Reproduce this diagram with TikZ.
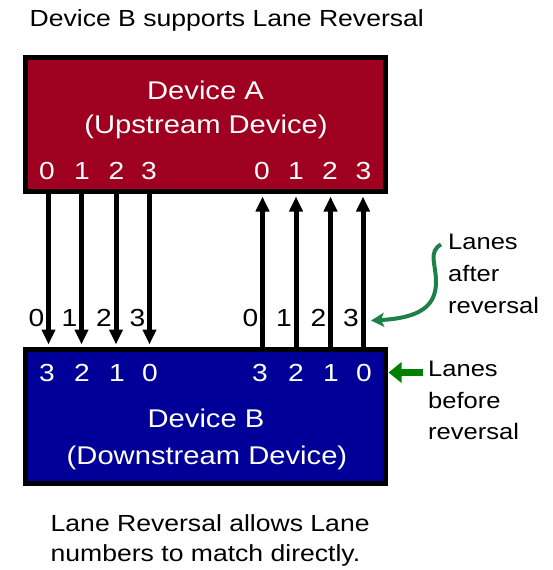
\documentclass[tikz,border=0pt]{standalone}
\usepackage{fontspec}
\setmainfont{Liberation Sans}[FakeStretch=1.14]
\usetikzlibrary{arrows.meta,calc}
\definecolor{devA}{RGB}{160,0,32}
\definecolor{devB}{RGB}{0,0,153}
\definecolor{grnA}{RGB}{28,128,72}
\definecolor{grnB}{RGB}{0,128,0}
\newcommand\myfs[1]{\fontsize{#1}{#1}\selectfont}
\begin{document}
\begin{tikzpicture}[x=1pt,y=-1pt,
  devbox/.style={draw=black, line width=5pt, minimum width=360pt, minimum height=134pt, inner sep=0pt},
  devname/.style={inner sep=0pt, anchor=base, text=white, font=\myfs{25.6}},
  lanedigit/.style={inner sep=0pt, anchor=base, font=\myfs{24.7}},
  abovelbl/.style={inner sep=0pt, anchor=base east, font=\myfs{24.7}},
  sidelbl/.style={inner sep=0pt, anchor=base west, font=\myfs{22.4}},
  plaintext/.style={inner sep=0pt, anchor=base west, font=\myfs{23.3}},
  lanearrow/.style={line width=5pt, -{Triangle[width=13pt,length=15pt]}, shorten >=2.5pt},
  curvearrow/.style={grnA, line width=4pt, -{Stealth[length=13pt,width=14pt,inset=3pt]}},
  straightarrow/.style={grnB, line width=6.5pt, -{Triangle[length=13pt,width=20pt]}}
]
\useasboundingbox (0,0) rectangle (552,570);

% title
\node[plaintext] (title) at (29.5,26.7) {Device B supports Lane Reversal};

% device boxes
\node[devbox, fill=devA] (boxA) at (205.5,124.5) {};
\node[devbox, fill=devB] (boxB) at (205.5,416.5) {};

\node[devname] (nameA1) at (205.5,99) {Device A};
\node[devname] (nameA2) at (206,133.3) {(Upstream Device)};
\node[devname] (nameB1) at (206,427) {Device B};
\node[devname] (nameB2) at (207,464) {(Downstream Device)};

% lane shaft positions
\foreach \x [count=\i] in {48.5,81.5,116,149.5,262.5,296,330.5,363}
  \coordinate (s\i) at (\x,0);

% digits inside Device A
\foreach \x/\d [count=\i] in {47/0,82/1,116.5/2,149/3,262/0,296/1,330/2,363.5/3}
  \node[lanedigit, text=white] (ta\i) at (\x,179.3) {\d};

% digits inside Device B
\foreach \x/\d [count=\i] in {47/3,82/2,117/1,150/0,260/3,296/2,331/1,364/0}
  \node[lanedigit, text=white] (bd\i) at (\x,381) {\d};

% labels above Device B (after reversal)
\foreach \x/\d [count=\i] in {44.5/0,77.5/1,112/2,145.5/3,258.5/0,292/1,326.5/2,359/3}
  \node[abovelbl] (ab\i) at (\x,326) {\d};

% lanes A -> B
\foreach \i in {1,2,3,4}
  \draw[lanearrow] (s\i |- boxA.south) -- (s\i |- boxB.north);
% lanes B -> A
\foreach \i in {5,6,7,8}
  \draw[lanearrow] (s\i |- boxB.north) -- (s\i |- boxA.south);

% side labels
\node[sidelbl] (aft1) at (448,249) {Lanes};
\node[sidelbl] (aft2) at (448,281) {after};
\node[sidelbl] (aft3) at (448,313) {reversal};
\node[sidelbl] (bef1) at (428,376) {Lanes};
\node[sidelbl] (bef2) at (428,408) {before};
\node[sidelbl] (bef3) at (428,439) {reversal};

\draw[curvearrow] ($(aft1.west)+(-7,3)$) .. controls (428,252) and (436,264) .. (436,282)
  .. controls (436,306) and (420,318) .. ($(ab8.east)+(12,3)$);
\draw[straightarrow] ($(bd8 -| bef1.west)+(-5,0)$) -- ($(bd8 -| boxB.east)+(0.5,0)$);

% caption
\node[plaintext] (cap1) at (50.5,531.7) {Lane Reversal allows Lane};
\node[plaintext] (cap2) at (50.5,561.7) {numbers to match directly.};
\end{tikzpicture}
\end{document}
